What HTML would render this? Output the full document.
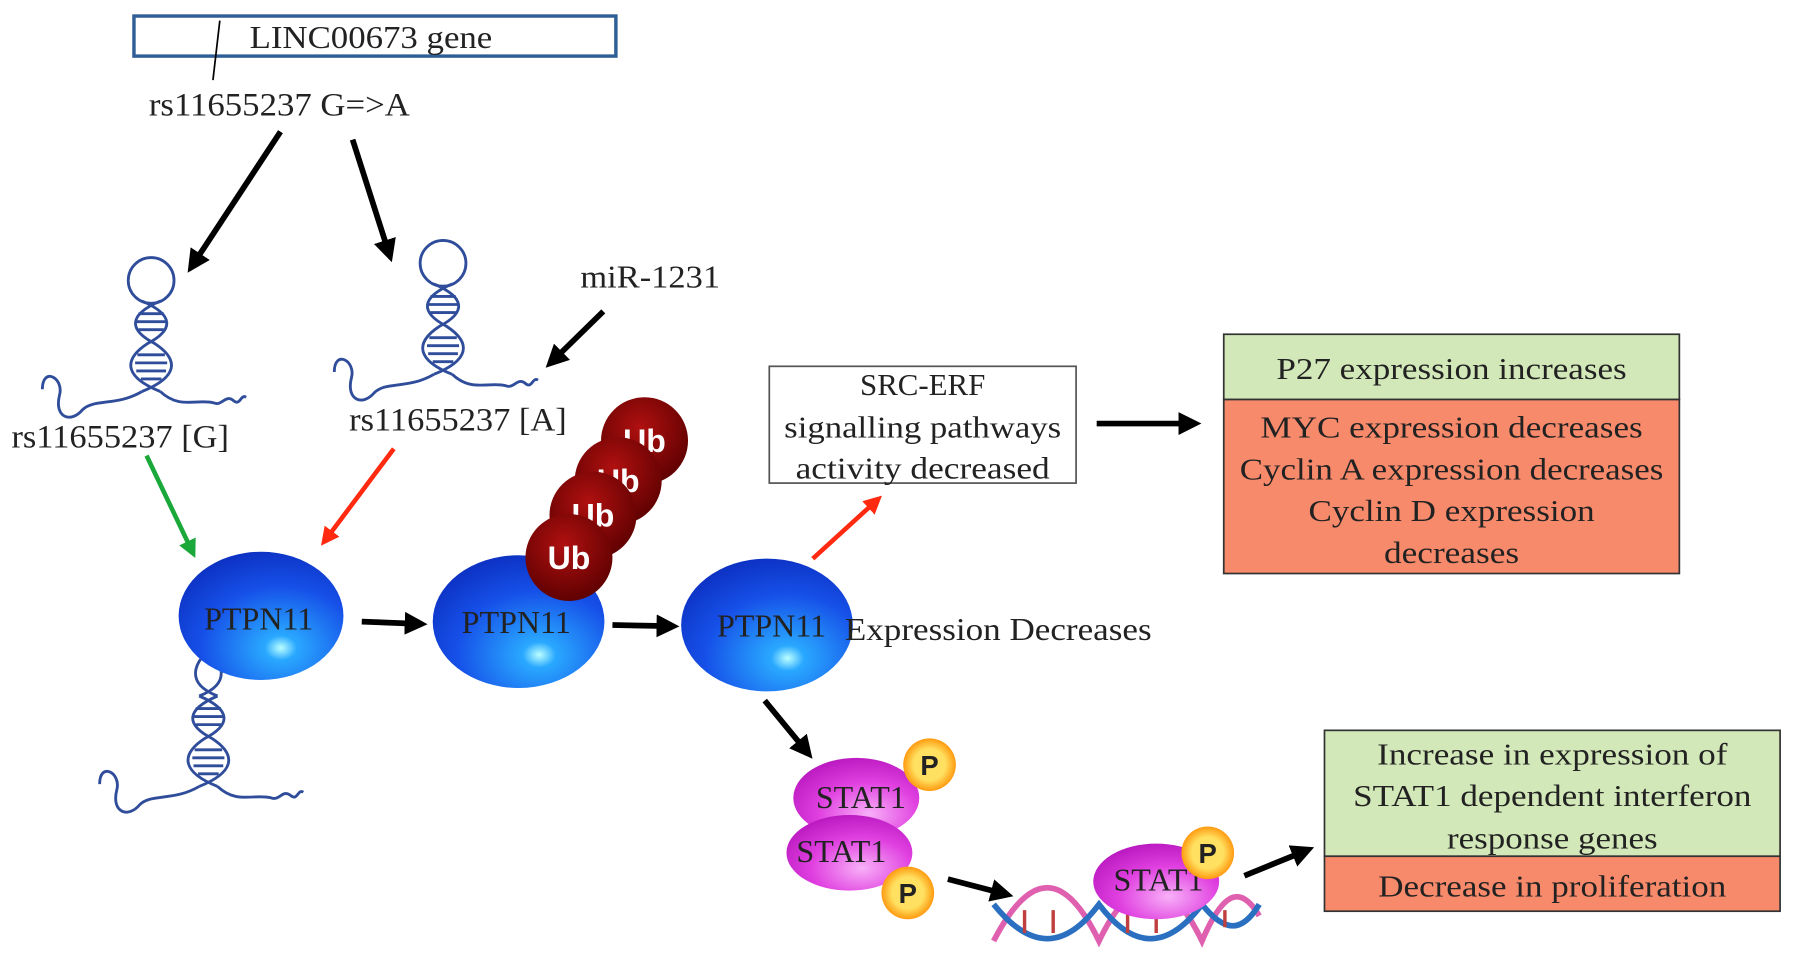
<!DOCTYPE html>
<html><head><meta charset="utf-8"><style>
html,body{margin:0;padding:0;background:#fff;}
svg{display:block;}
text{font-family:"Liberation Serif",serif;fill:#222;}
</style></head><body>
<svg width="1795" height="957" viewBox="0 0 1568 836" xmlns="http://www.w3.org/2000/svg">
<defs>
<marker id="ab" markerWidth="4" markerHeight="4" refX="2.5" refY="2" orient="auto"><path d="M0,0 L4,2 L0,4 z" fill="#000"/></marker>
<marker id="ar" markerWidth="4" markerHeight="4" refX="2.5" refY="2" orient="auto"><path d="M0,0 L4,2 L0,4 z" fill="#ff2a10"/></marker>
<marker id="ag" markerWidth="4" markerHeight="4" refX="2.5" refY="2" orient="auto"><path d="M0,0 L4,2 L0,4 z" fill="#1aa83a"/></marker>
<radialGradient id="gb" cx="0.62" cy="0.75" r="0.8"><stop offset="0" stop-color="#bff"/><stop offset="0.12" stop-color="#29a8ff"/><stop offset="0.6" stop-color="#1650e8"/><stop offset="1" stop-color="#0c2fc0"/></radialGradient>
<radialGradient id="gm" cx="0.6" cy="0.7" r="0.8"><stop offset="0" stop-color="#f8b0f8"/><stop offset="0.5" stop-color="#e040e0"/><stop offset="1" stop-color="#b010b8"/></radialGradient>
<radialGradient id="gu" cx="0.45" cy="0.35" r="0.7"><stop offset="0" stop-color="#b01010"/><stop offset="1" stop-color="#5a0000"/></radialGradient>
<radialGradient id="gp" cx="0.5" cy="0.5" r="0.5"><stop offset="0.6" stop-color="#ffe060"/><stop offset="1" stop-color="#ff9a10"/></radialGradient>
<g id="helix" fill="none" stroke="#2f4d9a" stroke-width="2.5">
<path d="M-8,-67 C20,-55 20,-42 -3,-30 C-26,-15 -22,0 8,12 M8,-67 C-20,-55 -20,-42 3,-30 C26,-15 22,0 -8,12"/>
<path d="M-11,-56 h22 M-13,-49 h26 M-11,-42 h22 M-12,-20 h24 M-14,-13 h28 M-13,-6 h26 M-9,1 h18"/>
<path d="M-8,12 C-30,25 -50,18 -60,28 C-70,40 -85,35 -80,15 C-76,0 -95,-10 -95,10 M8,12 C25,28 40,18 55,22 C62,25 65,14 72,20 C78,25 78,14 83,17"/>
</g>
<g id="rna"><circle cx="0" cy="-85" r="20" fill="none" stroke="#2f4d9a" stroke-width="2.5"/><use href="#helix"/></g>
</defs>

<rect x="117" y="14" width="421" height="35" fill="none" stroke="#2e5e96" stroke-width="3"/>
<text x="218" y="42" font-size="28" textLength="212" lengthAdjust="spacingAndGlyphs">LINC00673 gene</text>
<line x1="192" y1="18" x2="186" y2="70" stroke="#000" stroke-width="1.5"/>
<text x="130" y="101" font-size="29" textLength="228" lengthAdjust="spacingAndGlyphs">rs11655237 G=&gt;A</text>

<g stroke="#000" stroke-width="5" fill="none">
<line x1="245" y1="115" x2="168" y2="232" marker-end="url(#ab)"/>
<line x1="308" y1="122" x2="340" y2="222" marker-end="url(#ab)"/>
<line x1="527" y1="272" x2="482" y2="316" marker-end="url(#ab)"/>
<line x1="316" y1="543" x2="366" y2="545" marker-end="url(#ab)"/>
<line x1="535" y1="546" x2="586" y2="547" marker-end="url(#ab)"/>
<line x1="958" y1="370" x2="1042" y2="370" marker-end="url(#ab)"/>
<line x1="668" y1="612" x2="705" y2="657" marker-end="url(#ab)"/>
<line x1="828" y1="768" x2="878" y2="781" marker-end="url(#ab)"/>
<line x1="1087" y1="765" x2="1141" y2="743" marker-end="url(#ab)"/>
</g>
<line x1="128" y1="398" x2="168" y2="482" stroke="#1aa83a" stroke-width="4" marker-end="url(#ag)"/>
<line x1="344" y1="392" x2="284" y2="472" stroke="#ff2a10" stroke-width="4" marker-end="url(#ar)"/>
<line x1="710" y1="488" x2="766" y2="437" stroke="#ff2a10" stroke-width="4" marker-end="url(#ar)"/>

<text x="507" y="251" font-size="28" textLength="122" lengthAdjust="spacingAndGlyphs">miR-1231</text>
<use href="#rna" x="132" y="330"/>
<use href="#rna" x="387" y="315"/>
<text x="10" y="391" font-size="29" textLength="190" lengthAdjust="spacingAndGlyphs">rs11655237 [G]</text>
<text x="305" y="376" font-size="29" textLength="190" lengthAdjust="spacingAndGlyphs">rs11655237 [A]</text>

<path d="M172,560 C200,580 200,598 174,608 M192,560 C164,580 164,598 190,608" fill="none" stroke="#2f4d9a" stroke-width="2.5"/>
<use href="#helix" x="182" y="675"/>

<ellipse cx="228" cy="538" rx="72" ry="56" fill="url(#gb)"/>
<ellipse cx="453" cy="543" rx="75" ry="58" fill="url(#gb)"/>
<ellipse cx="670" cy="546" rx="75" ry="58" fill="url(#gb)"/>
<text x="226" y="550" font-size="28" text-anchor="middle">PTPN11</text>
<text x="451" y="553" font-size="28" text-anchor="middle">PTPN11</text>
<text x="674" y="556" font-size="28" text-anchor="middle">PTPN11</text>
<text x="738" y="559" font-size="28" textLength="268" lengthAdjust="spacingAndGlyphs">Expression Decreases</text>

<g font-weight="bold" font-size="28">
<circle cx="563" cy="385" r="38" fill="url(#gu)"/><text x="563" y="395" text-anchor="middle" style="fill:#fff;font-family:'Liberation Sans',sans-serif">Ub</text>
<circle cx="540" cy="420" r="38" fill="url(#gu)"/><text x="540" y="430" text-anchor="middle" style="fill:#fff;font-family:'Liberation Sans',sans-serif">Ub</text>
<circle cx="518" cy="450" r="38" fill="url(#gu)"/><text x="518" y="460" text-anchor="middle" style="fill:#fff;font-family:'Liberation Sans',sans-serif">Ub</text>
<circle cx="497" cy="487" r="38" fill="url(#gu)"/><text x="497" y="497" text-anchor="middle" style="fill:#fff;font-family:'Liberation Sans',sans-serif">Ub</text>
</g>

<rect x="672" y="320" width="268" height="102" fill="#fff" stroke="#555" stroke-width="1.5"/>
<text x="806" y="345" font-size="27" text-anchor="middle">SRC-ERF</text>
<text x="806" y="382" font-size="27" text-anchor="middle" textLength="242" lengthAdjust="spacingAndGlyphs">signalling pathways</text>
<text x="806" y="418" font-size="27" text-anchor="middle" textLength="222" lengthAdjust="spacingAndGlyphs">activity decreased</text>

<rect x="1069" y="292" width="398" height="57" fill="#d3e8b8" stroke="#333" stroke-width="1.5"/>
<rect x="1069" y="349" width="398" height="152" fill="#f88a6c" stroke="#333" stroke-width="1.5"/>
<text x="1268" y="331" font-size="27" text-anchor="middle" textLength="306" lengthAdjust="spacingAndGlyphs">P27 expression increases</text>
<text x="1268" y="382" font-size="27" text-anchor="middle" textLength="334" lengthAdjust="spacingAndGlyphs">MYC expression decreases</text>
<text x="1268" y="419" font-size="27" text-anchor="middle" textLength="370" lengthAdjust="spacingAndGlyphs">Cyclin A expression decreases</text>
<text x="1268" y="455" font-size="27" text-anchor="middle" textLength="250" lengthAdjust="spacingAndGlyphs">Cyclin D expression</text>
<text x="1268" y="492" font-size="27" text-anchor="middle" textLength="118" lengthAdjust="spacingAndGlyphs">decreases</text>

<g fill="none" stroke-width="5">
<path d="M868,822 C900,760 930,760 960,822 C990,760 1020,760 1050,822 C1070,775 1085,775 1100,800" stroke="#e060b0"/>
<path d="M868,790 C900,830 930,830 960,790 C990,830 1020,830 1050,790 C1070,815 1085,815 1100,790" stroke="#2a6fc0"/>
<path d="M895,795 v20 M920,795 v20 M985,795 v20 M1010,795 v20 M1070,795 v15" stroke="#c04040" stroke-width="3"/>
</g>

<ellipse cx="748" cy="697" rx="55" ry="35" fill="url(#gm)"/>
<ellipse cx="742" cy="745" rx="55" ry="33" fill="url(#gm)"/>
<ellipse cx="1010" cy="770" rx="55" ry="33" fill="url(#gm)"/>
<text x="752" y="706" font-size="28" text-anchor="middle">STAT1</text>
<text x="735" y="753" font-size="28" text-anchor="middle">STAT1</text>
<text x="1012" y="778" font-size="28" text-anchor="middle">STAT1</text>
<g font-size="24" font-weight="bold">
<circle cx="812" cy="668" r="23" fill="url(#gp)"/><text x="812" y="677" text-anchor="middle" style="font-family:'Liberation Sans',sans-serif">P</text>
<circle cx="793" cy="780" r="23" fill="url(#gp)"/><text x="793" y="789" text-anchor="middle" style="font-family:'Liberation Sans',sans-serif">P</text>
<circle cx="1055" cy="745" r="23" fill="url(#gp)"/><text x="1055" y="754" text-anchor="middle" style="font-family:'Liberation Sans',sans-serif">P</text>
</g>

<rect x="1157" y="638" width="398" height="110" fill="#d3e8b8" stroke="#333" stroke-width="1.5"/>
<rect x="1157" y="748" width="398" height="48" fill="#f88a6c" stroke="#333" stroke-width="1.5"/>
<text x="1356" y="668" font-size="27" text-anchor="middle" textLength="306" lengthAdjust="spacingAndGlyphs">Increase in expression of</text>
<text x="1356" y="704" font-size="27" text-anchor="middle" textLength="348" lengthAdjust="spacingAndGlyphs">STAT1 dependent interferon</text>
<text x="1356" y="741" font-size="27" text-anchor="middle" textLength="184" lengthAdjust="spacingAndGlyphs">response genes</text>
<text x="1356" y="783" font-size="27" text-anchor="middle" textLength="304" lengthAdjust="spacingAndGlyphs">Decrease in proliferation</text>
</svg>
</body></html>
